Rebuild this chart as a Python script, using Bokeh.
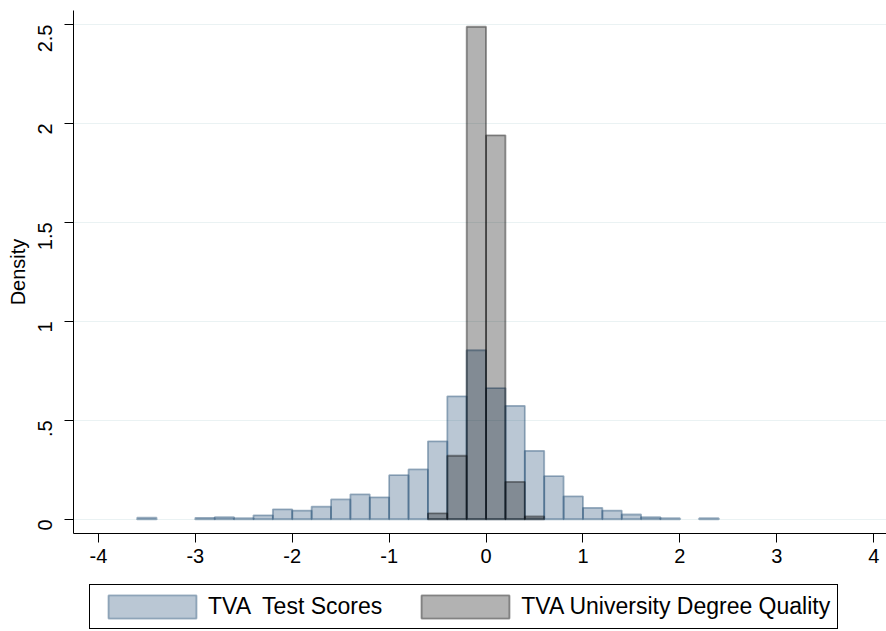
import math
from bokeh.plotting import figure
from bokeh.layouts import column
from bokeh.models import Range1d, FixedTicker, Legend, LegendItem
from bokeh.embed import file_html
from bokeh.resources import INLINE

# ---- data (histogram densities, bin width 0.2; left edges) ----
bin_width = 0.2
test_left = [-3.6, -3.0, -2.8, -2.6, -2.4, -2.2, -2.0, -1.8, -1.6, -1.4, -1.2, -1.0,
             -0.8, -0.6, -0.4, -0.2, 0.0, 0.2, 0.4, 0.6, 0.8, 1.0, 1.2, 1.4, 1.6, 1.8, 2.2]
test_density = [0.008, 0.007, 0.010, 0.005, 0.020, 0.050, 0.044, 0.064, 0.100, 0.126, 0.111, 0.223,
                0.252, 0.394, 0.621, 0.854, 0.663, 0.573, 0.346, 0.218, 0.116, 0.058, 0.044, 0.024, 0.010, 0.005, 0.005]

degree_left = [-0.6, -0.4, -0.2, 0.0, 0.2, 0.4]
degree_density = [0.030, 0.321, 2.489, 1.940, 0.189, 0.014]

x_ticks = [-4, -3, -2, -1, 0, 1, 2, 3, 4]
x_tick_labels = ["-4", "-3", "-2", "-1", "0", "1", "2", "3", "4"]
y_ticks = [0, 0.5, 1, 1.5, 2, 2.5]
y_tick_labels = ["0", ".5", "1", "1.5", "2", "2.5"]

series_names = ["TVA  Test Scores", "TVA University Degree Quality"]

FONT = "Liberation Sans"
BLUE = dict(fill_color="#1a476f", fill_alpha=0.3, line_color="#1a476f", line_alpha=0.4, line_width=1.8)
GRAY = dict(fill_color="black", fill_alpha=0.3, line_color="black", line_alpha=0.4, line_width=1.8)

p = figure(width=886, height=575, output_backend="svg", toolbar_location=None,
           x_range=Range1d(-4.257, 4.132), y_range=Range1d(-0.072, 2.571),
           min_border_left=73, min_border_right=0, min_border_top=10, min_border_bottom=42)
p.background_fill_color = "white"
p.border_fill_color = "white"
p.outline_line_color = None

p.quad(left=test_left, right=[v + bin_width for v in test_left], top=test_density, bottom=0, **BLUE)
p.quad(left=degree_left, right=[v + bin_width for v in degree_left], top=degree_density, bottom=0, **GRAY)

# grid
p.xgrid.visible = False
p.ygrid.grid_line_color = "#eaf2f3"
p.ygrid.grid_line_width = 1.2
p.ygrid.ticker = FixedTicker(ticks=y_ticks)

# x axis
xa = p.xaxis[0]
xa.ticker = FixedTicker(ticks=x_ticks)
xa.major_label_overrides = {t: l for t, l in zip(x_ticks, x_tick_labels)}
xa.minor_tick_line_color = None
xa.major_tick_out = 9
xa.major_tick_in = 0
xa.major_label_standoff = 6
xa.major_label_text_font = FONT
xa.major_label_text_font_size = "20px"
xa.major_label_text_color = "black"
xa.axis_line_color = "black"
xa.major_tick_line_color = "black"

# y axis
ya = p.yaxis[0]
ya.ticker = FixedTicker(ticks=y_ticks)
ya.major_label_overrides = {t: l for t, l in zip(y_ticks, y_tick_labels)}
ya.major_label_orientation = math.pi / 2
ya.minor_tick_line_color = None
ya.major_tick_out = 9
ya.major_tick_in = 0
ya.major_label_standoff = 19
ya.major_label_text_font = FONT
ya.major_label_text_font_size = "20px"
ya.major_label_text_color = "black"
ya.axis_label = "Density"
ya.axis_label_text_font = FONT
ya.axis_label_text_font_size = "20px"
ya.axis_label_text_font_style = "normal"
ya.axis_label_text_color = "black"
ya.axis_label_standoff = 0
ya.axis_line_color = "black"
ya.major_tick_line_color = "black"

# ---- legend strip (separate figure underneath; its frame is aligned with the main frame) ----
lg = figure(width=886, height=56, output_backend="svg", toolbar_location=None,
            x_range=Range1d(100, 101), y_range=Range1d(100, 101),
            min_border_left=0, min_border_right=0, min_border_top=0, min_border_bottom=0)
lg.axis.visible = False
lg.grid.visible = False
lg.outline_line_color = None
lg.background_fill_color = "white"
lg.border_fill_color = "white"
# key swatches: one off-range bar each, only used for the legend glyphs
k1 = lg.quad(left=test_left[:1], right=[test_left[0] + bin_width], top=test_density[:1], bottom=0, **BLUE)
k2 = lg.quad(left=degree_left[:1], right=[degree_left[0] + bin_width], top=degree_density[:1], bottom=0, **GRAY)

legend = Legend(items=[LegendItem(label=series_names[0], renderers=[k1]),
                       LegendItem(label=series_names[1], renderers=[k2])],
                orientation="horizontal", location=(16, 2), margin=0,
                padding=7, spacing=28, glyph_width=110, glyph_height=29,
                label_standoff=1, label_height=23,
                label_text_font=FONT, label_text_font_size="23px", label_text_color="black",
                border_line_color="black", border_line_width=1, border_line_alpha=1,
                background_fill_color="white", background_fill_alpha=1)
lg.add_layout(legend, "center")

layout = column(p, lg, spacing=0)
open("out.html", "w").write(file_html(layout, INLINE))
